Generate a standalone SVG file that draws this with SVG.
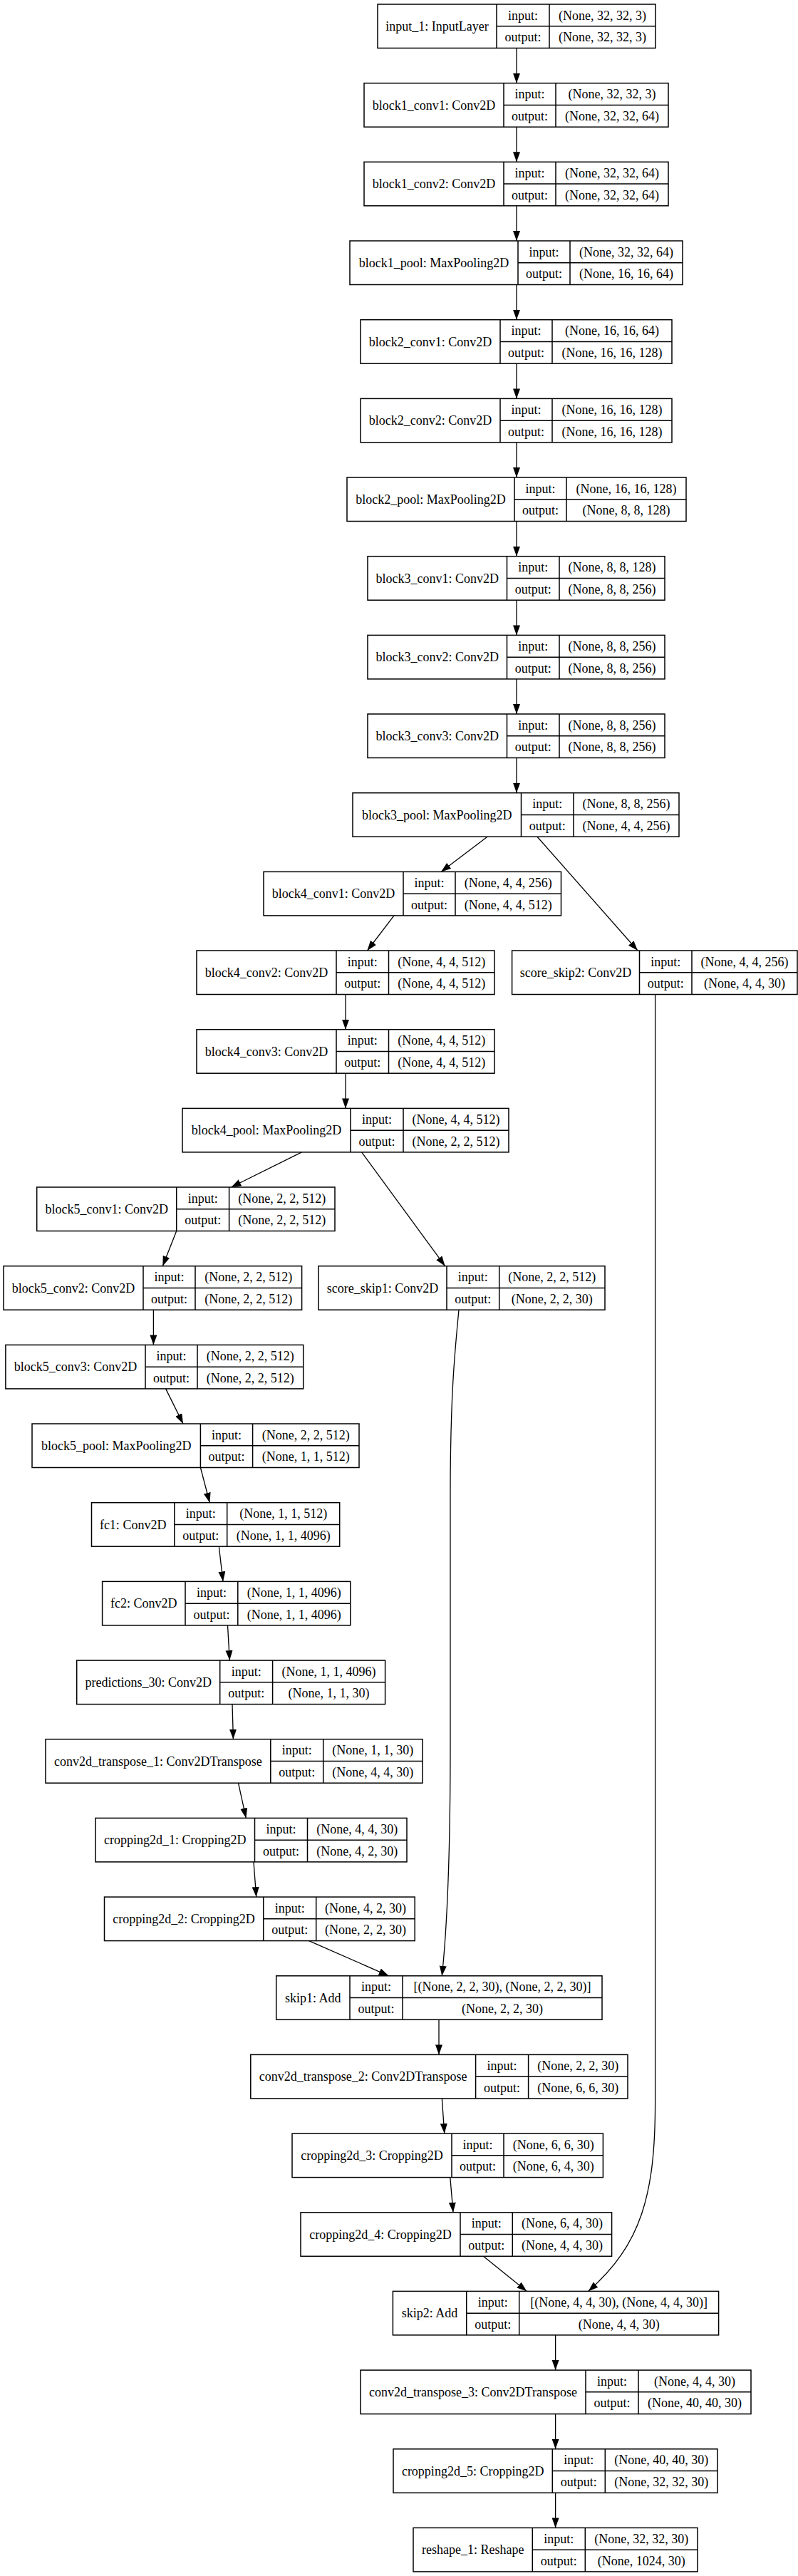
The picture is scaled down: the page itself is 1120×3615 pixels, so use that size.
<svg xmlns="http://www.w3.org/2000/svg" width="1120" height="3615" viewBox="0 0 1120 3615">
<style>
.b{fill:#fff;stroke:#000;stroke-width:1.5}
.l{fill:none;stroke:#000;stroke-width:1.5}
.e{fill:none;stroke:#000;stroke-width:1.3;marker-end:url(#ah)}
text{font-family:"Liberation Serif","Times New Roman",serif;font-size:18px;text-anchor:middle;fill:#000}
</style>
<defs>
<marker id="ah" markerUnits="userSpaceOnUse" markerWidth="15" markerHeight="11" refX="14" refY="5" orient="auto">
<path d="M0,0 L14,5 L0,10 Z" fill="#000"/>
</marker>
</defs>
<rect width="1120" height="3615" fill="#fff"/>

<g id="edges">
<path class="e" d="M725,67.5 V116.7"/>
<path class="e" d="M725,178.2 V227.3"/>
<path class="e" d="M725,288.8 V338"/>
<path class="e" d="M725,399.5 V448.7"/>
<path class="e" d="M725,510.2 V559.4"/>
<path class="e" d="M725,620.9 V670"/>
<path class="e" d="M725,731.5 V780.7"/>
<path class="e" d="M725,842.2 V891.4"/>
<path class="e" d="M725,952.9 V1002"/>
<path class="e" d="M725,1063.5 V1112.7"/>
<path class="e" d="M684,1174.2 L619,1223.4"/>
<path class="e" d="M754,1174.2 L895,1334"/>
<path class="e" d="M553,1284.9 L515.5,1334"/>
<path class="e" d="M485,1395.5 V1444.7"/>
<path class="e" d="M485,1506.2 V1555.4"/>
<path class="e" d="M423.5,1616.9 L324.5,1666"/>
<path class="e" d="M507.6,1616.9 L624.6,1776.7"/>
<path class="e" d="M247.7,1727.5 L228.3,1776.7"/>
<path class="e" d="M215.4,1838.2 V1887.4"/>
<path class="e" d="M232.6,1948.9 L257,1998"/>
<path class="e" d="M281.4,2059.5 L294.3,2108.7"/>
<path class="e" d="M307.3,2170.2 L313,2219.4"/>
<path class="e" d="M319.5,2280.9 L322.3,2330.1"/>
<path class="e" d="M326,2391.6 L327.4,2440.7"/>
<path class="e" d="M334.5,2502.2 L345.3,2551.4"/>
<path class="e" d="M356,2612.9 L359.7,2662.1"/>
<path class="e" d="M433.6,2723.6 L545.6,2772.8"/>
<path class="e" d="M644,1838.2 C638,1900 632,1960 632,2100 L632,2450 C632,2600 628,2700 620.3,2772.8"/>
<path class="e" d="M616,2834.3 V2883.4"/>
<path class="e" d="M620.3,2944.9 L623.8,2994.1"/>
<path class="e" d="M631.8,3055.6 L636,3104.8"/>
<path class="e" d="M678.4,3166.3 L739.4,3215.4"/>
<path class="e" d="M919.6,1395.5 L919.6,2950 C919.6,3080 900,3150 825.6,3215.4"/>
<path class="e" d="M779.6,3276.9 V3326.1"/>
<path class="e" d="M779.6,3387.6 V3436.8"/>
<path class="e" d="M779.6,3498.3 V3547.4"/>
</g>

<g id="input_1" transform="translate(530,6)"><rect class="b" width="390" height="61.5"/><path class="l" d="M167,0V61.5M241,0V61.5M167,30.75H390"/><text x="83.5" y="37">input_1: InputLayer</text><text x="204" y="21.5">input:</text><text x="204" y="52.3">output:</text><text x="315.5" y="21.5">(None, 32, 32, 3)</text><text x="315.5" y="52.3">(None, 32, 32, 3)</text></g>

<g id="block1_conv1" transform="translate(511,116.7)"><rect class="b" width="427" height="61.5"/><path class="l" d="M196,0V61.5M269,0V61.5M196,30.75H427"/><text x="98" y="37">block1_conv1: Conv2D</text><text x="232.5" y="21.5">input:</text><text x="232.5" y="52.3">output:</text><text x="348" y="21.5">(None, 32, 32, 3)</text><text x="348" y="52.3">(None, 32, 32, 64)</text></g>

<g id="block1_conv2" transform="translate(511,227.3)"><rect class="b" width="427" height="61.5"/><path class="l" d="M196,0V61.5M269,0V61.5M196,30.75H427"/><text x="98" y="37">block1_conv2: Conv2D</text><text x="232.5" y="21.5">input:</text><text x="232.5" y="52.3">output:</text><text x="348" y="21.5">(None, 32, 32, 64)</text><text x="348" y="52.3">(None, 32, 32, 64)</text></g>

<g id="block1_pool" transform="translate(491,338)"><rect class="b" width="467" height="61.5"/><path class="l" d="M236,0V61.5M309,0V61.5M236,30.75H467"/><text x="118" y="37">block1_pool: MaxPooling2D</text><text x="272.5" y="21.5">input:</text><text x="272.5" y="52.3">output:</text><text x="388" y="21.5">(None, 32, 32, 64)</text><text x="388" y="52.3">(None, 16, 16, 64)</text></g>

<g id="block2_conv1" transform="translate(506,448.7)"><rect class="b" width="437" height="61.5"/><path class="l" d="M196,0V61.5M269,0V61.5M196,30.75H437"/><text x="98" y="37">block2_conv1: Conv2D</text><text x="232.5" y="21.5">input:</text><text x="232.5" y="52.3">output:</text><text x="353" y="21.5">(None, 16, 16, 64)</text><text x="353" y="52.3">(None, 16, 16, 128)</text></g>

<g id="block2_conv2" transform="translate(506,559.4)"><rect class="b" width="437" height="61.5"/><path class="l" d="M196,0V61.5M269,0V61.5M196,30.75H437"/><text x="98" y="37">block2_conv2: Conv2D</text><text x="232.5" y="21.5">input:</text><text x="232.5" y="52.3">output:</text><text x="353" y="21.5">(None, 16, 16, 128)</text><text x="353" y="52.3">(None, 16, 16, 128)</text></g>

<g id="block2_pool" transform="translate(487,670)"><rect class="b" width="476" height="61.5"/><path class="l" d="M235,0V61.5M308,0V61.5M235,30.75H476"/><text x="117.5" y="37">block2_pool: MaxPooling2D</text><text x="271.5" y="21.5">input:</text><text x="271.5" y="52.3">output:</text><text x="392" y="21.5">(None, 16, 16, 128)</text><text x="392" y="52.3">(None, 8, 8, 128)</text></g>

<g id="block3_conv1" transform="translate(516,780.7)"><rect class="b" width="417" height="61.5"/><path class="l" d="M195.5,0V61.5M269,0V61.5M195.5,30.75H417"/><text x="97.75" y="37">block3_conv1: Conv2D</text><text x="232.25" y="21.5">input:</text><text x="232.25" y="52.3">output:</text><text x="343" y="21.5">(None, 8, 8, 128)</text><text x="343" y="52.3">(None, 8, 8, 256)</text></g>

<g id="block3_conv2" transform="translate(516,891.4)"><rect class="b" width="417" height="61.5"/><path class="l" d="M195.5,0V61.5M269,0V61.5M195.5,30.75H417"/><text x="97.75" y="37">block3_conv2: Conv2D</text><text x="232.25" y="21.5">input:</text><text x="232.25" y="52.3">output:</text><text x="343" y="21.5">(None, 8, 8, 256)</text><text x="343" y="52.3">(None, 8, 8, 256)</text></g>

<g id="block3_conv3" transform="translate(516,1002)"><rect class="b" width="417" height="61.5"/><path class="l" d="M195.5,0V61.5M269,0V61.5M195.5,30.75H417"/><text x="97.75" y="37">block3_conv3: Conv2D</text><text x="232.25" y="21.5">input:</text><text x="232.25" y="52.3">output:</text><text x="343" y="21.5">(None, 8, 8, 256)</text><text x="343" y="52.3">(None, 8, 8, 256)</text></g>

<g id="block3_pool" transform="translate(495,1112.7)"><rect class="b" width="458" height="61.5"/><path class="l" d="M236.5,0V61.5M310,0V61.5M236.5,30.75H458"/><text x="118.25" y="37">block3_pool: MaxPooling2D</text><text x="273.25" y="21.5">input:</text><text x="273.25" y="52.3">output:</text><text x="384" y="21.5">(None, 8, 8, 256)</text><text x="384" y="52.3">(None, 4, 4, 256)</text></g>

<g id="block4_conv1" transform="translate(370,1223.4)"><rect class="b" width="417.5" height="61.5"/><path class="l" d="M196,0V61.5M269,0V61.5M196,30.75H417.5"/><text x="98" y="37">block4_conv1: Conv2D</text><text x="232.5" y="21.5">input:</text><text x="232.5" y="52.3">output:</text><text x="343.25" y="21.5">(None, 4, 4, 256)</text><text x="343.25" y="52.3">(None, 4, 4, 512)</text></g>

<g id="block4_conv2" transform="translate(276,1334)"><rect class="b" width="418" height="61.5"/><path class="l" d="M196,0V61.5M269.5,0V61.5M196,30.75H418"/><text x="98" y="37">block4_conv2: Conv2D</text><text x="232.75" y="21.5">input:</text><text x="232.75" y="52.3">output:</text><text x="343.75" y="21.5">(None, 4, 4, 512)</text><text x="343.75" y="52.3">(None, 4, 4, 512)</text></g>

<g id="score_skip2" transform="translate(718.6,1334)"><rect class="b" width="400.4" height="61.5"/><path class="l" d="M178.9,0V61.5M252.4,0V61.5M178.9,30.75H400.4"/><text x="89.45" y="37">score_skip2: Conv2D</text><text x="215.65" y="21.5">input:</text><text x="215.65" y="52.3">output:</text><text x="326.4" y="21.5">(None, 4, 4, 256)</text><text x="326.4" y="52.3">(None, 4, 4, 30)</text></g>

<g id="block4_conv3" transform="translate(276,1444.7)"><rect class="b" width="418" height="61.5"/><path class="l" d="M196,0V61.5M269.5,0V61.5M196,30.75H418"/><text x="98" y="37">block4_conv3: Conv2D</text><text x="232.75" y="21.5">input:</text><text x="232.75" y="52.3">output:</text><text x="343.75" y="21.5">(None, 4, 4, 512)</text><text x="343.75" y="52.3">(None, 4, 4, 512)</text></g>

<g id="block4_pool" transform="translate(256,1555.4)"><rect class="b" width="458" height="61.5"/><path class="l" d="M236,0V61.5M310,0V61.5M236,30.75H458"/><text x="118" y="37">block4_pool: MaxPooling2D</text><text x="273" y="21.5">input:</text><text x="273" y="52.3">output:</text><text x="384" y="21.5">(None, 4, 4, 512)</text><text x="384" y="52.3">(None, 2, 2, 512)</text></g>

<g id="block5_conv1" transform="translate(51.7,1666)"><rect class="b" width="418.3" height="61.5"/><path class="l" d="M196,0V61.5M269.9,0V61.5M196,30.75H418.3"/><text x="98" y="37">block5_conv1: Conv2D</text><text x="232.95" y="21.5">input:</text><text x="232.95" y="52.3">output:</text><text x="344.1" y="21.5">(None, 2, 2, 512)</text><text x="344.1" y="52.3">(None, 2, 2, 512)</text></g>

<g id="block5_conv2" transform="translate(5,1776.7)"><rect class="b" width="418.6" height="61.5"/><path class="l" d="M196,0V61.5M269,0V61.5M196,30.75H418.6"/><text x="98" y="37">block5_conv2: Conv2D</text><text x="232.5" y="21.5">input:</text><text x="232.5" y="52.3">output:</text><text x="343.8" y="21.5">(None, 2, 2, 512)</text><text x="343.8" y="52.3">(None, 2, 2, 512)</text></g>

<g id="score_skip1" transform="translate(447,1776.7)"><rect class="b" width="402" height="61.5"/><path class="l" d="M180,0V61.5M253.7,0V61.5M180,30.75H402"/><text x="90" y="37">score_skip1: Conv2D</text><text x="216.85" y="21.5">input:</text><text x="216.85" y="52.3">output:</text><text x="327.85" y="21.5">(None, 2, 2, 512)</text><text x="327.85" y="52.3">(None, 2, 2, 30)</text></g>

<g id="block5_conv3" transform="translate(7.9,1887.4)"><rect class="b" width="417.8" height="61.5"/><path class="l" d="M196.1,0V61.5M269.1,0V61.5M196.1,30.75H417.8"/><text x="98.05" y="37">block5_conv3: Conv2D</text><text x="232.6" y="21.5">input:</text><text x="232.6" y="52.3">output:</text><text x="343.45" y="21.5">(None, 2, 2, 512)</text><text x="343.45" y="52.3">(None, 2, 2, 512)</text></g>

<g id="block5_pool" transform="translate(45,1998)"><rect class="b" width="459" height="61.5"/><path class="l" d="M236.4,0V61.5M309.6,0V61.5M236.4,30.75H459"/><text x="118.2" y="37">block5_pool: MaxPooling2D</text><text x="273" y="21.5">input:</text><text x="273" y="52.3">output:</text><text x="384.3" y="21.5">(None, 2, 2, 512)</text><text x="384.3" y="52.3">(None, 1, 1, 512)</text></g>

<g id="fc1" transform="translate(128.5,2108.7)"><rect class="b" width="348.2" height="61.5"/><path class="l" d="M116.3,0V61.5M190.2,0V61.5M116.3,30.75H348.2"/><text x="58.15" y="37">fc1: Conv2D</text><text x="153.25" y="21.5">input:</text><text x="153.25" y="52.3">output:</text><text x="269.2" y="21.5">(None, 1, 1, 512)</text><text x="269.2" y="52.3">(None, 1, 1, 4096)</text></g>

<g id="fc2" transform="translate(143.6,2219.4)"><rect class="b" width="348.2" height="61.5"/><path class="l" d="M116.4,0V61.5M190.2,0V61.5M116.4,30.75H348.2"/><text x="58.2" y="37">fc2: Conv2D</text><text x="153.3" y="21.5">input:</text><text x="153.3" y="52.3">output:</text><text x="269.2" y="21.5">(None, 1, 1, 4096)</text><text x="269.2" y="52.3">(None, 1, 1, 4096)</text></g>

<g id="predictions_30" transform="translate(107.7,2330.1)"><rect class="b" width="432.9" height="61.5"/><path class="l" d="M201,0V61.5M274.9,0V61.5M201,30.75H432.9"/><text x="100.5" y="37">predictions_30: Conv2D</text><text x="237.95" y="21.5">input:</text><text x="237.95" y="52.3">output:</text><text x="353.9" y="21.5">(None, 1, 1, 4096)</text><text x="353.9" y="52.3">(None, 1, 1, 30)</text></g>

<g id="conv2d_transpose_1" transform="translate(64,2440.7)"><rect class="b" width="529" height="61.5"/><path class="l" d="M315.8,0V61.5M389.7,0V61.5M315.8,30.75H529"/><text x="157.9" y="37">conv2d_transpose_1: Conv2DTranspose</text><text x="352.75" y="21.5">input:</text><text x="352.75" y="52.3">output:</text><text x="459.35" y="21.5">(None, 1, 1, 30)</text><text x="459.35" y="52.3">(None, 4, 4, 30)</text></g>

<g id="cropping2d_1" transform="translate(134,2551.4)"><rect class="b" width="437" height="61.5"/><path class="l" d="M223.5,0V61.5M297.5,0V61.5M223.5,30.75H437"/><text x="111.75" y="37">cropping2d_1: Cropping2D</text><text x="260.5" y="21.5">input:</text><text x="260.5" y="52.3">output:</text><text x="367.25" y="21.5">(None, 4, 4, 30)</text><text x="367.25" y="52.3">(None, 4, 2, 30)</text></g>

<g id="cropping2d_2" transform="translate(146.5,2662.1)"><rect class="b" width="435.7" height="61.5"/><path class="l" d="M223.2,0V61.5M297.2,0V61.5M223.2,30.75H435.7"/><text x="111.6" y="37">cropping2d_2: Cropping2D</text><text x="260.2" y="21.5">input:</text><text x="260.2" y="52.3">output:</text><text x="366.45" y="21.5">(None, 4, 2, 30)</text><text x="366.45" y="52.3">(None, 2, 2, 30)</text></g>

<g id="skip1" transform="translate(387.7,2772.8)"><rect class="b" width="457.3" height="61.5"/><path class="l" d="M103.3,0V61.5M177.3,0V61.5M103.3,30.75H457.3"/><text x="51.65" y="37">skip1: Add</text><text x="140.3" y="21.5">input:</text><text x="140.3" y="52.3">output:</text><text x="317.3" y="21.5">[(None, 2, 2, 30), (None, 2, 2, 30)]</text><text x="317.3" y="52.3">(None, 2, 2, 30)</text></g>

<g id="conv2d_transpose_2" transform="translate(351.8,2883.4)"><rect class="b" width="529.2" height="61.5"/><path class="l" d="M315.8,0V61.5M389.8,0V61.5M315.8,30.75H529.2"/><text x="157.9" y="37">conv2d_transpose_2: Conv2DTranspose</text><text x="352.8" y="21.5">input:</text><text x="352.8" y="52.3">output:</text><text x="459.5" y="21.5">(None, 2, 2, 30)</text><text x="459.5" y="52.3">(None, 6, 6, 30)</text></g>

<g id="cropping2d_3" transform="translate(410,2994.1)"><rect class="b" width="436.4" height="61.5"/><path class="l" d="M224,0V61.5M297,0V61.5M224,30.75H436.4"/><text x="112" y="37">cropping2d_3: Cropping2D</text><text x="260.5" y="21.5">input:</text><text x="260.5" y="52.3">output:</text><text x="366.7" y="21.5">(None, 6, 6, 30)</text><text x="366.7" y="52.3">(None, 6, 4, 30)</text></g>

<g id="cropping2d_4" transform="translate(422,3104.8)"><rect class="b" width="436.6" height="61.5"/><path class="l" d="M224,0V61.5M297.3,0V61.5M224,30.75H436.6"/><text x="112" y="37">cropping2d_4: Cropping2D</text><text x="260.65" y="21.5">input:</text><text x="260.65" y="52.3">output:</text><text x="366.95" y="21.5">(None, 6, 4, 30)</text><text x="366.95" y="52.3">(None, 4, 4, 30)</text></g>

<g id="skip2" transform="translate(551.4,3215.4)"><rect class="b" width="457.2" height="61.5"/><path class="l" d="M103.3,0V61.5M177.3,0V61.5M103.3,30.75H457.2"/><text x="51.65" y="37">skip2: Add</text><text x="140.3" y="21.5">input:</text><text x="140.3" y="52.3">output:</text><text x="317.25" y="21.5">[(None, 4, 4, 30), (None, 4, 4, 30)]</text><text x="317.25" y="52.3">(None, 4, 4, 30)</text></g>

<g id="conv2d_transpose_3" transform="translate(506,3326.1)"><rect class="b" width="548" height="61.5"/><path class="l" d="M316,0V61.5M390,0V61.5M316,30.75H548"/><text x="158" y="37">conv2d_transpose_3: Conv2DTranspose</text><text x="353" y="21.5">input:</text><text x="353" y="52.3">output:</text><text x="469" y="21.5">(None, 4, 4, 30)</text><text x="469" y="52.3">(None, 40, 40, 30)</text></g>

<g id="cropping2d_5" transform="translate(552,3436.8)"><rect class="b" width="455" height="61.5"/><path class="l" d="M223.3,0V61.5M297.3,0V61.5M223.3,30.75H455"/><text x="111.65" y="37">cropping2d_5: Cropping2D</text><text x="260.3" y="21.5">input:</text><text x="260.3" y="52.3">output:</text><text x="376.15" y="21.5">(None, 40, 40, 30)</text><text x="376.15" y="52.3">(None, 32, 32, 30)</text></g>

<g id="reshape_1" transform="translate(580,3547.4)"><rect class="b" width="399" height="61.5"/><path class="l" d="M167.3,0V61.5M241.3,0V61.5M167.3,30.75H399"/><text x="83.65" y="37">reshape_1: Reshape</text><text x="204.3" y="21.5">input:</text><text x="204.3" y="52.3">output:</text><text x="320.15" y="21.5">(None, 32, 32, 30)</text><text x="320.15" y="52.3">(None, 1024, 30)</text></g>
</svg>
